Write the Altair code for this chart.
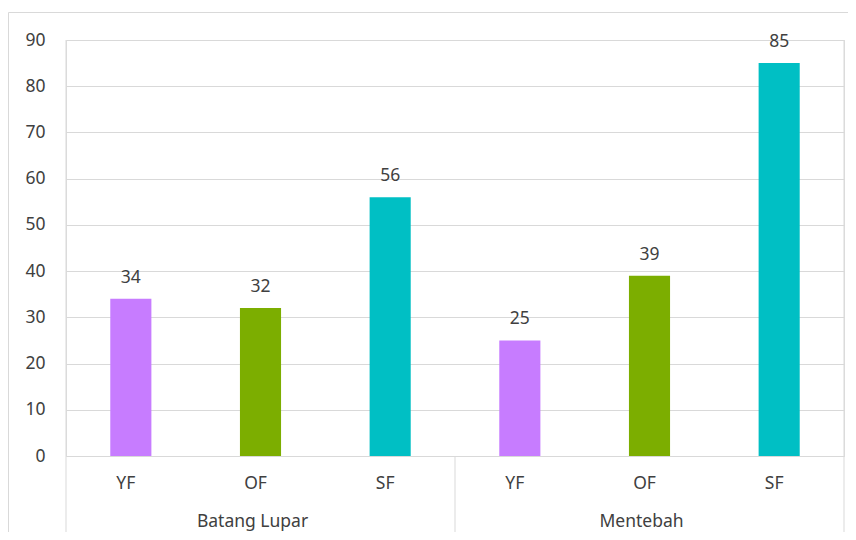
import altair as alt
import pandas as pd

locations = ["Batang Lupar", "Batang Lupar", "Batang Lupar", "Mentebah", "Mentebah", "Mentebah"]
forms = ["YF", "OF", "SF", "YF", "OF", "SF"]
values = [34, 32, 56, 25, 39, 85]
form_order = ["YF", "OF", "SF"]
form_colors = ["#C77CFF", "#7CAE00", "#00BFC4"]
y_ticks = [0, 10, 20, 30, 40, 50, 60, 70, 80, 90]

keys = [f"{l}|{f}" for l, f in zip(locations, forms)]
df = pd.DataFrame({"location": locations, "form": forms, "value": values, "key": keys})

W, H = 778, 416
P_INNER = 0.683
P_OUTER = P_INNER / 2
STEP = W / len(keys)
TXT = "#404040"
GRID = "#d9d9d9"
FONT = "Noto Sans"
FS = 17.5

xscale = alt.Scale(domain=keys, paddingInner=P_INNER, paddingOuter=P_OUTER)

base = alt.Chart(df)

bars = base.mark_bar().encode(
    x=alt.X("key:N", scale=xscale, sort=keys,
            axis=alt.Axis(title=None, labelExpr="split(datum.label, '|')[1]",
                          labelAngle=0, ticks=False, domainColor=GRID,
                          labelPadding=27, labelBaseline="middle", labelOffset=-5,
                          labelFont=FONT, labelFontSize=FS, labelColor=TXT)),
    y=alt.Y("value:Q", scale=alt.Scale(domain=[0, 90], nice=False),
            axis=alt.Axis(title=None, values=y_ticks, ticks=False, domain=False,
                          gridColor=GRID, labelPadding=21,
                          labelFont=FONT, labelFontSize=FS, labelColor=TXT)),
    color=alt.Color("form:N", scale=alt.Scale(domain=form_order, range=form_colors), legend=None),
)

labels = base.mark_text(baseline="alphabetic", dy=-16, font=FONT, fontSize=FS, color=TXT).encode(
    x=alt.X("key:N", scale=xscale, sort=keys),
    y=alt.Y("value:Q"),
    text=alt.Text("value:Q"),
)

# group labels centered on each group's middle category
groups = pd.DataFrame({"location": ["Batang Lupar", "Mentebah"],
                       "key": ["Batang Lupar|OF", "Mentebah|OF"]})
group_labels = alt.Chart(groups).mark_text(baseline="middle", dx=-8, font=FONT, fontSize=FS, color=TXT).encode(
    x=alt.X("key:N", scale=xscale, sort=keys),
    y=alt.value(H + 66),
    text="location:N",
)

# separator between groups (below the axis): half a step left of the first band of group 2
sep = pd.DataFrame({"key": ["Mentebah|YF"]})
mid_rule = alt.Chart(sep).mark_rule(color=GRID, strokeWidth=1, xOffset=-STEP / 2).encode(
    x=alt.X("key:N", scale=xscale, sort=keys),
    y=alt.value(H),
    y2=alt.value(H + 120),
)

one = pd.DataFrame({"a": [0]})
left_rule = alt.Chart(one).mark_rule(color=GRID, strokeWidth=1).encode(
    x=alt.value(0), y=alt.value(0), y2=alt.value(H + 120))
right_rule = alt.Chart(one).mark_rule(color=GRID, strokeWidth=1).encode(
    x=alt.value(W), y=alt.value(0), y2=alt.value(H + 120))

border = alt.Chart(one).mark_rect(fillOpacity=0, stroke=GRID, strokeWidth=1).encode(
    x=alt.value(-57.5), x2=alt.value(W + 60), y=alt.value(-27.5), y2=alt.value(H + 200))

chart = alt.layer(border, bars, labels, group_labels, mid_rule, left_rule, right_rule).properties(
    width=W, height=H,
    padding={"left": 58, "top": 32, "right": 4, "bottom": 76},
    autosize=alt.AutoSizeParams(type="none"),
).configure_view(stroke=GRID).configure(background="white")

chart.save("out.html", embed_options={"renderer": "svg", "actions": False})
